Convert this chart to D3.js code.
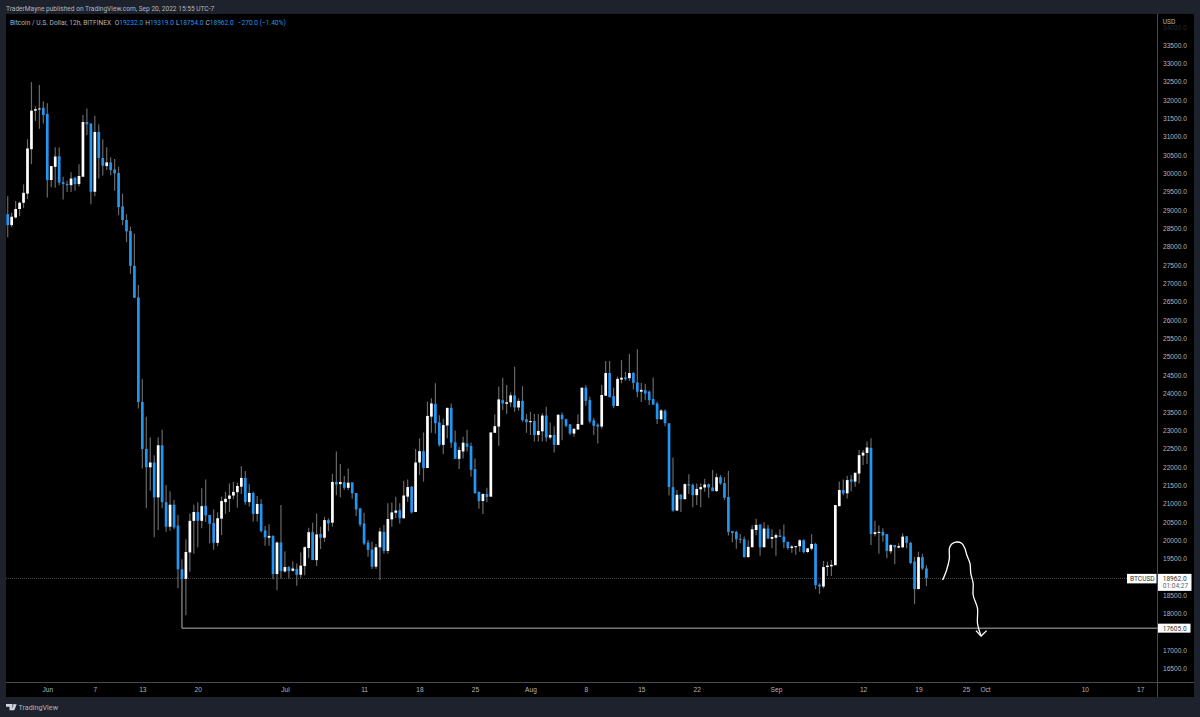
<!DOCTYPE html>
<html>
<head>
<meta charset="utf-8">
<script src="https://cdn.jsdelivr.net/npm/d3@7"></script>
<style>
  html, body { margin: 0; padding: 0; background: #1e222d; }
  svg { display: block; font-family: Roboto, sans-serif; }
</style>
</head>
<body>
<div id="svg-container"></div>
<script>
// Candle values, one entry per 12h bar
const opens = [28890,28590,28800,29030,29200,29450,30660,31710,31745,31790,31620,29820,30180,30470,29760,29710,29680,29880,29710,29910,31400,31360,29500,31130,30420,30200,30300,30110,30010,29100,28730,28430,27480,26620,
  23770,22490,21990,22120,21170,22590,21040,20370,20970,20400,19210,18950,19670,20530,20770,20530,20940,20690,20470,19930,20590,21040,21130,21220,21310,21460,21700,21040,21290,20720,20990,20270,20070,20120,19080,19940,19150,19270,19170,19220,19060,19300,19790,20220,19460,
  20170,20070,20550,20480,21590,21530,21580,21430,21580,21290,20870,20460,19940,19750,19280,19810,20230,19710,20570,20750,20820,20600,21190,21460,20770,22120,22430,21970,23370,23720,23210,22600,23130,23610,22670,22220,22420,22640,22570,21940,21320,21070,21260,21190,22930,23100,
  23820,23720,23760,23950,23620,23800,23300,23220,23250,22870,22970,23400,22800,22870,22600,23420,23300,23160,22910,23020,23150,24160,23820,23270,23150,23100,23940,24560,23930,23660,24380,24440,24420,24560,24300,24050,24090,24050,23850,23730,23300,23530,23190,
  21450,20810,21240,21120,21530,21510,21230,21390,21440,21530,21440,21340,21720,21560,21180,20250,20230,20040,20030,19540,19810,20280,20430,19810,20320,20040,20070,20130,20100,19960,19790,19820,19840,20000,19680,19770,19900,18790,18740,19270,19290,
  19320,20930,21370,21280,21660,21600,21820,22310,22380,22520,20170,20210,20230,20170,19700,19870,19800,19810,20110,19930,19420,18670,19540,19232];
const highs = [29380,28930,29250,29230,29700,30930,32490,31830,32410,31970,31910,30200,30710,30710,29910,29800,30030,29910,30250,31590,31770,31360,31570,31340,30930,30710,30440,30390,30180,29450,28890,28550,28360,26960,
  24390,23370,22800,22320,22810,23010,21510,21340,21100,20690,19480,20030,20730,20970,21040,21420,21660,20690,20840,20760,21190,21320,21550,21590,21570,22020,21890,21530,21320,21210,21120,20390,20440,20140,19970,20960,19700,19300,19430,19370,19670,19840,20340,20480,20730,
  20370,20640,20600,21810,22420,22080,21750,21960,21580,21290,20870,20750,20010,19960,19900,20340,20420,21010,21030,21190,21010,21620,21660,21480,22490,22780,22940,23780,23870,24280,23410,23320,23610,23730,22990,22550,22820,23010,22660,22230,21320,21280,21430,22940,23430,24190,
  24430,24230,24030,24730,23870,24200,23440,23500,23440,23440,23460,23640,23210,23110,23440,23480,23320,23160,23040,23430,24160,24230,23910,23330,23190,24230,24890,24890,24160,24460,24910,24590,25080,24590,25210,24290,24260,24080,24440,23780,23570,23570,23190,
  22260,21370,21260,21550,21800,21550,21550,21550,21680,21550,21920,21820,21780,21720,21890,20250,20260,20170,20100,20000,20410,20590,20440,20490,20420,20300,20190,20300,20430,19960,19870,19840,20030,20030,19780,20170,19930,18830,19440,19420,19460,
  20960,21600,21660,21760,21780,21840,22460,22460,22690,22780,20530,20400,20330,20170,19900,19870,19920,20190,20110,19960,19550,19690,19630,19319];
const lows = [28260,28530,28770,28840,29060,29300,30250,31430,31220,31360,29340,29620,29610,29680,29290,29490,29490,29530,29640,29910,31050,29160,29380,29860,29940,30090,29950,29530,28860,28590,28130,27260,26610,23590,
  21960,20870,21350,20080,20280,20870,20230,20260,20300,18690,17605,17960,19140,19630,19810,20330,20500,19920,19740,19840,20140,20720,20770,21120,20890,21260,20970,20920,20510,20510,20210,19850,19850,18940,18640,18960,19120,18960,19140,18760,18980,19050,19510,19460,19300,
  19760,19960,20250,20370,21230,21170,21370,21370,21130,20660,20370,19870,19550,19220,19220,18920,19640,19630,20370,20600,20460,20600,21050,20730,20770,21780,21600,21970,22930,22910,22550,22350,22780,22520,22220,21940,22230,22420,21730,21280,20860,20720,21040,21190,22930,22580,
  23550,23440,23640,23500,23530,23230,22930,22870,22690,22690,22690,22690,22750,22390,22600,22730,23080,22870,22820,23010,23150,23670,23190,22870,22640,23040,23940,23900,23600,23660,24280,24350,24350,24110,23900,23770,23820,23690,23690,23170,23280,23110,21230,
  20780,20810,20770,21110,21260,20900,20960,20900,21320,21160,21340,21320,21510,21100,20130,19950,19770,19920,19540,19540,19810,20140,19580,19810,20030,19780,19580,20090,19780,19740,19660,19600,19690,19640,19660,19720,18670,18540,18690,19030,19030,
  19320,20930,21230,21140,21330,21460,21550,22050,22080,19870,20100,19630,19960,19510,19630,19350,19780,19780,19780,19350,18260,18670,19190,18754];
const closes = [28590,28820,29030,29200,29470,30680,31710,31750,31770,31590,29820,30200,30460,29750,29710,29680,29860,29710,29930,31400,31340,29500,31130,30420,30210,30300,30090,30000,29080,28730,28420,27480,26610,23770,
  22490,21990,22120,21170,22590,21040,20370,20970,20350,19210,18950,19680,20530,20770,20530,20930,20680,20450,19930,20600,21070,21130,21220,21320,21480,21700,21040,21290,20720,20990,20250,20080,20120,19080,19940,19160,19270,19160,19230,19060,19310,19810,20220,19460,20160,
  20070,20550,20460,21590,21520,21590,21430,21570,21280,20840,20430,19910,19740,19280,19810,20240,19710,20580,20760,20810,20600,21220,21450,20760,22120,22430,21970,23390,23730,23190,22600,23140,23610,22660,22220,22460,22660,22550,21920,21280,21070,21260,21180,22940,23110,23840,
  23730,23760,23950,23620,23800,23270,23220,23250,22870,22980,23400,22800,22870,22600,23420,23300,23120,22910,23040,23170,24160,23800,23240,23120,23100,23960,24560,23900,23660,24400,24430,24390,24560,24290,24050,24100,24000,23820,23700,23300,23540,23190,21450,
  20810,21240,21120,21530,21490,21230,21400,21450,21520,21440,21340,21720,21550,21160,20230,20200,20030,20020,19540,19820,20300,20420,19810,20320,20050,20090,20140,20090,19950,19790,19830,19840,20000,19680,19780,19900,18780,18740,19270,19310,19330,
  20960,21370,21280,21640,21600,21840,22320,22390,22530,20170,20220,20230,20130,19710,19870,19810,19840,20100,19930,19380,18670,19540,19230,18962];

// Price labels on the right, 19000 and 17500 sit behind the price tags
const priceTicks = [16500,17000,18000,18500,19500,20000,20500,21000,21500,22000,22500,23000,23500,24000,24500,25000,25500,26000,26500,27000,27500,28000,28500,29000,29500,30000,30500,31000,31500,32000,32500,33000,33500];
const priceLine = 18962;
const lowLine = 17605;
const lowBar = 44;

// Date labels along the bottom
const timeTickBars = [10, 22, 34, 48, 70, 90, 104, 118, 132, 146, 160, 174, 194, 216, 230, 242, 246.8, 272, 286];
const timeTickLabels = ["Jun", "7", "13", "20", "Jul", "11", "18", "25", "Aug", "8", "15", "22", "Sep", "12", "19", "25", "Oct", "10", "17"];

// Hand drawn projection, bar position and price
const sketchBars = [236.1, 237.1, 237.8, 237.8, 238.4, 239.6, 240.9, 241.7, 242.2, 243.0, 243.2, 243.8, 243.8, 244.9, 244.9, 245.8];
const sketchPrices = [18918, 19190, 19508, 19781, 19899, 19953, 19917, 19781, 19599, 19372, 19099, 18827, 18509, 18146, 17737, 17392];
const arrowBars = [244.5, 245.8, 247.2];
const arrowPrices = [17537, 17392, 17537];

const legendName = "Bitcoin / U.S. Dollar, 12h, BITFINEX";
const legendParts = [["O", "19232.0"], ["H", "19319.0"], ["L", "18754.0"], ["C", "18962.0"]];
const legendChange = "\u2212270.0 (\u22121.40%)";

// Set dimensions of the page and the panes
const width = 1200;
const height = 717;
const pane = { left: 6, top: 14, right: 1157.5, bottom: 682.5, axisRight: 1194, axisBottom: 697 };

const textColor = "#b2b5be";
const blue = "#2196f3";
const wickColor = "#686868";
const axisFont = "6.6px";
const headerFont = "6.6px";

const svg = d3.select("#svg-container")
  .append("svg")
    .attr("width", width)
    .attr("height", height);

// Set up scales
const xScale = d3.scaleLinear()
                .domain([0, 286])
                .range([7.7, 7.7 + 286 * 3.96]);

const yScale = d3.scaleLinear()
                .domain([16500, 33500])
                .range([668.7, 45]);

// Panes
svg.append("rect")
    .attr("x", pane.left)
    .attr("y", pane.top)
    .attr("width", pane.axisRight - pane.left)
    .attr("height", pane.axisBottom - pane.top)
    .attr("fill", "#000");

svg.append("line")
    .attr("x1", pane.right).attr("x2", pane.right)
    .attr("y1", pane.top).attr("y2", pane.axisBottom)
    .attr("stroke", "#4a4a4f");

svg.append("line")
    .attr("x1", pane.left).attr("x2", pane.axisRight)
    .attr("y1", pane.bottom).attr("y2", pane.bottom)
    .attr("stroke", "#4a4a4f");

// Add axes
const yAxis = svg.append("g")
    .attr("id", "yAxis")
    .attr("transform", `translate(${pane.right}, 0)`)
    .call(d3.axisRight(yScale).tickValues(priceTicks).tickSize(0).tickPadding(5.5).tickFormat(d3.format(".1f")));
yAxis.select(".domain").remove();
yAxis.selectAll("text")
    .attr("fill", textColor)
    .style("font-size", axisFont);

const xAxis = svg.append("g")
    .attr("id", "xAxis")
    .attr("transform", `translate(0, ${pane.bottom})`)
    .call(d3.axisBottom(xScale).tickValues(timeTickBars).tickSize(0).tickPadding(4.5).tickFormat((d, i) => timeTickLabels[i]));
xAxis.select(".domain").remove();
xAxis.selectAll("text")
    .attr("fill", textColor)
    .style("font-size", axisFont);

// Currency label, with the faded label under it
svg.append("text")
    .attr("x", 1162.7)
    .attr("y", yScale(34000) + 3.4)
    .attr("fill", textColor)
    .attr("opacity", 0.2)
    .style("font-size", axisFont)
    .text(d3.format(".1f")(34000));

svg.append("text")
    .attr("x", 1162.7)
    .attr("y", 24.3)
    .attr("fill", textColor)
    .style("font-size", axisFont)
    .text("USD");

// Last price line
svg.append("line")
    .attr("x1", pane.left)
    .attr("x2", 1127)
    .attr("y1", yScale(priceLine))
    .attr("y2", yScale(priceLine))
    .attr("stroke", "#666")
    .attr("stroke-width", 0.8)
    .attr("stroke-dasharray", "1 1");

// Low line, starting with its drop from the candle
const lowPath = d3.line()
  .x(d => xScale(d[0]))
  .y(d => yScale(d[1]));

svg.append("path")
    .attr("d", lowPath([[lowBar, 18950], [lowBar, lowLine]]))
    .attr("fill", "none")
    .attr("stroke", "#8a8a8a");

svg.append("line")
    .attr("x1", xScale(lowBar))
    .attr("x2", pane.right)
    .attr("y1", yScale(lowLine))
    .attr("y2", yScale(lowLine))
    .attr("stroke", "#b4b4b4");

// Add candles
const bars = d3.range(opens.length);

svg.append("g").selectAll("line")
  .data(bars)
  .enter()
  .append("line")
    .attr("x1", i => xScale(i))
    .attr("x2", i => xScale(i))
    .attr("y1", i => yScale(highs[i]))
    .attr("y2", i => yScale(lows[i]))
    .attr("stroke", wickColor)
    .attr("stroke-width", 1.2);

svg.append("g").selectAll("rect")
  .data(bars)
  .enter()
  .append("rect")
    .attr("x", i => xScale(i) - 1.35)
    .attr("width", 2.7)
    .attr("y", i => yScale(Math.max(opens[i], closes[i])))
    .attr("height", i => Math.max(1, Math.abs(yScale(opens[i]) - yScale(closes[i]))))
    .attr("fill", i => closes[i] >= opens[i] ? "#fff" : blue);

// Hand drawn arrow
const sketchLine = d3.line()
  .x(d => xScale(d[0]))
  .y(d => yScale(d[1]))
  .curve(d3.curveCatmullRom);

svg.append("path")
    .attr("d", sketchLine(sketchBars.map((b, i) => [b, sketchPrices[i]])))
    .attr("fill", "none")
    .attr("stroke", "#fff")
    .attr("stroke-width", 1.3);

svg.append("path")
    .attr("d", lowPath(arrowBars.map((b, i) => [b, arrowPrices[i]])))
    .attr("fill", "none")
    .attr("stroke", "#fff")
    .attr("stroke-width", 1.3);

// Price tags
const tagY = yScale(priceLine);

svg.append("rect")
    .attr("x", 1127).attr("y", tagY - 4.5)
    .attr("width", 29.5).attr("height", 9.5)
    .attr("fill", "#fff");

svg.append("text")
    .attr("x", 1130).attr("y", tagY + 2.6)
    .attr("fill", "#333")
    .style("font-size", axisFont)
    .text("BTCUSD");

svg.append("rect")
    .attr("x", 1158).attr("y", tagY - 4.5)
    .attr("width", 33.5).attr("height", 17)
    .attr("fill", "#fff");

svg.append("text")
    .attr("x", 1162.7).attr("y", tagY + 2.6)
    .attr("fill", "#333")
    .style("font-size", axisFont)
    .text(d3.format(".1f")(priceLine));

svg.append("text")
    .attr("x", 1162.7).attr("y", tagY + 10)
    .attr("fill", "#666")
    .style("font-size", axisFont)
    .text("01:04:27");

const lowY = yScale(lowLine);

svg.append("rect")
    .attr("x", 1158).attr("y", lowY - 4.5)
    .attr("width", 32.5).attr("height", 9)
    .attr("fill", "#fff");

svg.append("text")
    .attr("x", 1162.7).attr("y", lowY + 2.6)
    .attr("fill", "#333")
    .style("font-size", axisFont)
    .text(d3.format(".1f")(lowLine));

// Header text
svg.append("text")
    .attr("x", 6).attr("y", 10.5)
    .attr("fill", textColor)
    .style("font-size", headerFont)
    .text("TraderMayne published on TradingView.com, Sep 20, 2022 15:55 UTC-7");

const legend = svg.append("text")
    .attr("x", 10).attr("y", 25)
    .style("font-size", headerFont);

legend.append("tspan")
    .attr("fill", textColor)
    .text(legendName + "  ");

legendParts.forEach(d => {
  legend.append("tspan").attr("fill", textColor).attr("dx", 2).text(d[0]);
  legend.append("tspan").attr("fill", blue).text(d[1]);
});

legend.append("tspan")
    .attr("fill", blue)
    .attr("dx", 4)
    .text(legendChange);

// Footer logo and name
svg.append("path")
    .attr("d", "M6 704h6.5v6.2h-3v-3.4H6z M14 704.2l2.7 0-2.4 6h-2.4z")
    .attr("fill", "#d1d4dc");

svg.append("circle")
    .attr("cx", 13.8).attr("cy", 705.2).attr("r", 1)
    .attr("fill", "#d1d4dc");

svg.append("text")
    .attr("x", 18.5).attr("y", 710)
    .attr("fill", textColor)
    .style("font-size", "7.2px")
    .text("TradingView");
</script>
</body>
</html>
